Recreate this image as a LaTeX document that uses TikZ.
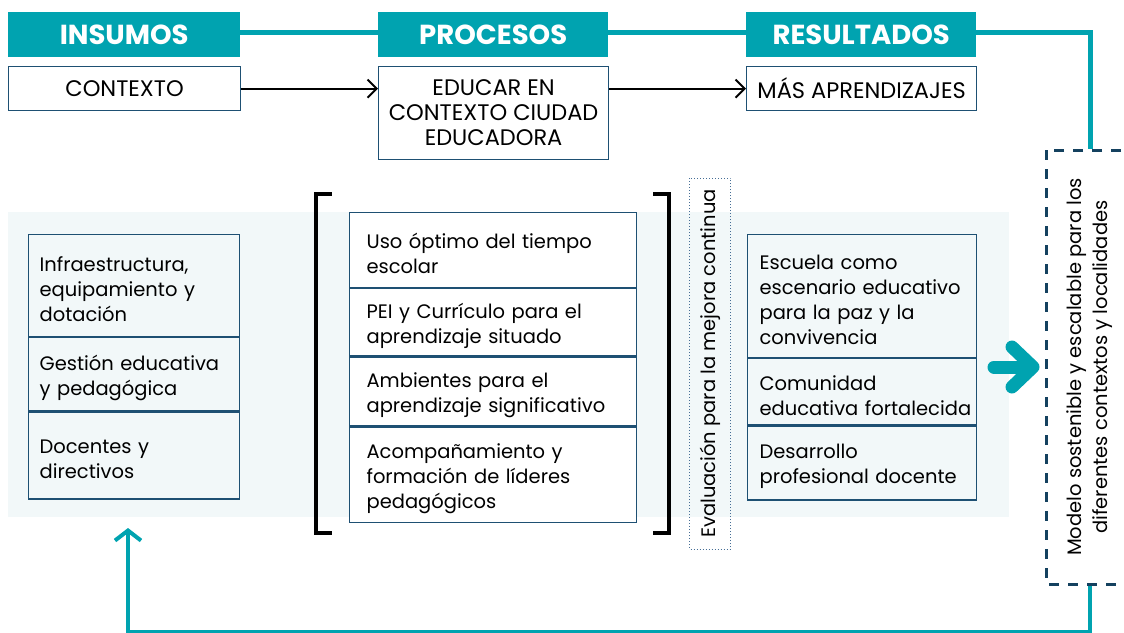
\documentclass[tikz,border=0pt]{standalone}
\usepackage{fontspec}
\setmainfont{Poppins}
\usetikzlibrary{arrows.meta}
\definecolor{teal1}{RGB}{0,163,176}
\definecolor{navy}{RGB}{30,80,115}
\definecolor{bandc}{RGB}{242,248,249}
\definecolor{dashc}{RGB}{20,65,95}
\definecolor{dotc}{RGB}{70,110,150}
\begin{document}
\begin{tikzpicture}[x=1pt,y=-1pt,
  hdr/.style={fill=teal1, text=white, font=\bfseries\fontsize{27.5}{30}\selectfont, minimum width=232, minimum height=45, inner sep=0, anchor=north west},
  topbox/.style={draw=navy, line width=1.2, fill=white, font=\fontsize{22.5}{25}\selectfont, align=center, inner sep=0, anchor=north west},
  cellbase/.style={draw=navy, line width=1.2, font=\fontsize{19.5}{25}\selectfont, align=left, anchor=north west, inner sep=0},
  cellL/.style={cellbase, text width=211, execute at begin node={\leftskip=11pt\relax\rule{0pt}{22pt}}},
  cellM/.style={cellbase, fill=white, text width=287, execute at begin node={\leftskip=17pt\relax\rule{0pt}{22pt}}},
  cellR/.style={cellbase, text width=229, execute at begin node={\leftskip=12pt\relax\rule{0pt}{22pt}}},
  tealline/.style={teal1, line width=5},
  blackarrow/.style={black, line width=2, -{Straight Barb[length=9pt,width=18pt]}},
  bracket/.style={black, line width=4, line cap=rect},
]
\useasboundingbox (0,0) rectangle (1124,632);

% background band
\fill[bandc] (8,212) rectangle (1009,517);

% headers
\node[hdr] (insumos) at (8,12) {INSUMOS};
\node[hdr, minimum width=230] (procesos) at (378,12) {PROCESOS};
\node[hdr, minimum width=230] (resultados) at (746,12) {RESULTADOS};

% top boxes
\node[topbox, minimum width=232, minimum height=44] (contexto) at (8,66) {CONTEXTO};
\node[topbox, minimum width=230, minimum height=93] (educar) at (378,66) {EDUCAR EN\\CONTEXTO CIUDAD\\EDUCADORA};
\node[topbox, minimum width=230, minimum height=44] (mas) at (746,66) {MÁS APRENDIZAJES};

% model box (rotated)
\node[draw=dashc, line width=3, dash pattern=on 10pt off 9pt, rotate=90,
      minimum width=434, minimum height=88, inner sep=0, align=center,
      font=\fontsize{19.5}{26}\selectfont] (modelo) at (1090,367)
      {Modelo sostenible y escalable para los\\diferentes contextos y localidades};

% evaluation dotted box
\node[draw=dotc, line width=1, dash pattern=on 1pt off 2pt, rotate=90,
      minimum width=371, minimum height=41, inner sep=0,
      font=\fontsize{19.5}{25}\selectfont] (eval) at (710,363.5)
      {Evaluación para la mejora continua};

% left cells
\node[cellL, minimum height=102] (l1) at (28,234) {Infraestructura,\\equipamiento y\\dotación};
\node[cellL, minimum height=73] (l2) at (l1.south west) {Gestión educativa\\y pedagógica};
\node[cellL, minimum height=87] (l3) at (l2.south west) {Docentes y\\directivos};

% middle cells
\node[cellM, minimum height=75] (m1) at (349,212) {Uso óptimo del tiempo\\escolar};
\node[cellM, minimum height=67] (m2) at (m1.south west) {PEI y Currículo para el\\aprendizaje situado};
\node[cellM, minimum height=69] (m3) at (m2.south west) {Ambientes para el\\aprendizaje significativo};
\node[cellM, minimum height=95] (m4) at (m3.south west) {Acompañamiento y\\formación de líderes\\pedagógicos};

% right cells
\node[cellR, minimum height=123] (r1) at (747,234) {Escuela como\\escenario educativo\\para la paz y la\\convivencia};
\node[cellR, minimum height=66] (r2) at (r1.south west) {Comunidad\\educativa fortalecida};
\node[cellR, minimum height=74] (r3) at (r2.south west) {Desarrollo\\profesional docente};

% brackets
\draw[bracket] (330,194) -- (316,194) -- (316,533) -- (330,533);
\draw[bracket] (655,194) -- (669,194) -- (669,533) -- (655,533);

% teal header line
\draw[tealline] ([yshift=2.5pt]insumos.east) -- ([yshift=2.5pt]procesos.west);
\draw[tealline] ([yshift=2.5pt]procesos.east) -- ([yshift=2.5pt]resultados.west);
\draw[tealline] ([yshift=2.5pt]resultados.east) -| (modelo.east);

% black arrows
\draw[blackarrow] (contexto.east) -- (contexto.east -| educar.west);
\draw[blackarrow] (educar.east |- mas.west) -- (mas.west);

% big teal arrow
\coordinate (bigstart) at (994,367);
\draw[teal1, line width=13, line cap=round, shorten >=5pt,
      -{Straight Barb[round, length=21pt, width=40pt]}] (bigstart) -- (modelo.north);

% feedback loop
\coordinate (fb) at (128,528);
\draw[teal1, line width=4, -{Straight Barb[length=10pt, width=26pt]}]
  (modelo.west) -- ++(0,46) -| (fb);
\end{tikzpicture}
\end{document}
